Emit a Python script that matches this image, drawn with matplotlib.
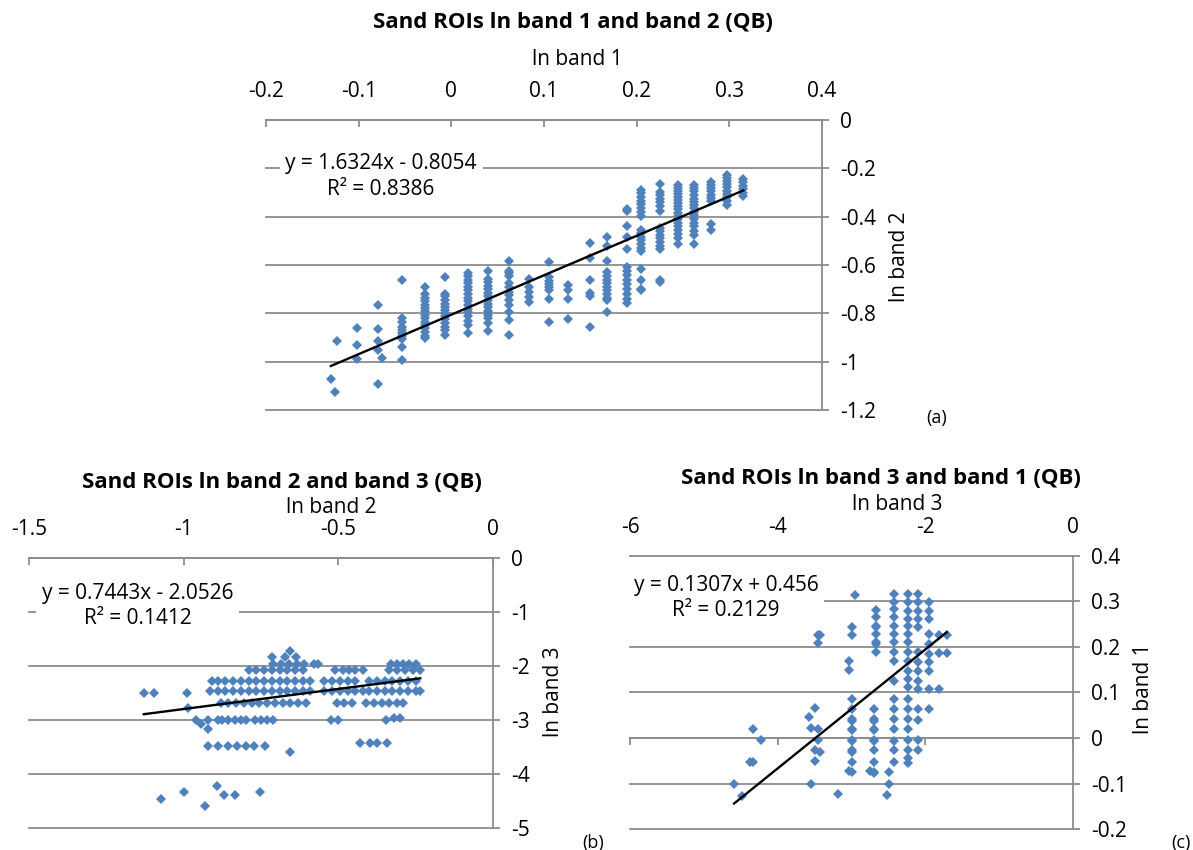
# Sand ROIs - ln band scatter plots with linear trend lines (QB)

import numpy as np
import matplotlib
matplotlib.use('Agg')
import matplotlib.pyplot as plt
from matplotlib.ticker import MultipleLocator, FuncFormatter

plt.rcParams['font.family'] = ['Open Sans', 'DejaVu Sans']
plt.rcParams['axes.unicode_minus'] = False

# ---- panel (a): ln band 1 (x) vs ln band 2 (y), values come in columns
a_col_x = [-0.130, -0.126, -0.123, -0.102, -0.079, -0.075, -0.053, -0.029,
           -0.007, 0.018, 0.040, 0.062, 0.084, 0.105, 0.126, 0.150, 0.168,
           0.189, 0.205, 0.225, 0.244, 0.262, 0.280, 0.297, 0.315]
a_col_y = [
    [-1.070],
    [-1.127],
    [-0.916],
    [-0.862, -0.930, -0.988],
    [-0.766, -0.866, -0.916, -0.953, -1.093],
    [-0.984],
    [-0.664, -0.821, -0.835, -0.857, -0.870, -0.882, -0.895, -0.906, -0.939, -0.994],
    [-0.691, -0.718, -0.735, -0.750, -0.765, -0.778, -0.790, -0.805, -0.820,
     -0.835, -0.848, -0.862, -0.878, -0.892, -0.903],
    [-0.650, -0.718, -0.730, -0.745, -0.760, -0.772, -0.785, -0.800, -0.812,
     -0.825, -0.840, -0.855, -0.870, -0.889],
    [-0.634, -0.645, -0.660, -0.675, -0.690, -0.705, -0.720, -0.735, -0.750,
     -0.765, -0.780, -0.795, -0.810, -0.830, -0.850, -0.882],
    [-0.623, -0.657, -0.672, -0.688, -0.700, -0.715, -0.730, -0.745, -0.760,
     -0.775, -0.790, -0.805, -0.820, -0.840, -0.871],
    [-0.585, -0.623, -0.635, -0.645, -0.675, -0.690, -0.710, -0.725, -0.746,
     -0.765, -0.793, -0.828, -0.889],
    [-0.657, -0.691, -0.712, -0.732, -0.753],
    [-0.586, -0.650, -0.665, -0.680, -0.692, -0.705, -0.742, -0.837],
    [-0.684, -0.705, -0.742, -0.823],
    [-0.507, -0.569, -0.660, -0.716, -0.729, -0.855],
    [-0.484, -0.521, -0.585, -0.630, -0.645, -0.660, -0.675, -0.690, -0.705,
     -0.720, -0.735, -0.746, -0.793],
    [-0.367, -0.378, -0.439, -0.484, -0.534, -0.609, -0.625, -0.640, -0.660,
     -0.680, -0.700, -0.720, -0.740, -0.759],
    [-0.289, -0.303, -0.318, -0.333, -0.348, -0.363, -0.380, -0.398, -0.453,
     -0.468, -0.483, -0.498, -0.513, -0.528, -0.541, -0.616, -0.660, -0.700, -0.705],
    [-0.266, -0.296, -0.310, -0.325, -0.340, -0.355, -0.378, -0.446, -0.460,
     -0.475, -0.490, -0.505, -0.520, -0.534, -0.660, -0.670],
    [-0.269, -0.280, -0.292, -0.305, -0.318, -0.330, -0.342, -0.355, -0.370,
     -0.385, -0.398, -0.410, -0.425, -0.440, -0.455, -0.470, -0.487, -0.511],
    [-0.269, -0.282, -0.295, -0.310, -0.325, -0.338, -0.350, -0.365, -0.380,
     -0.395, -0.410, -0.425, -0.440, -0.458, -0.476, -0.514],
    [-0.255, -0.268, -0.280, -0.295, -0.310, -0.323, -0.337, -0.429, -0.453],
    [-0.228, -0.240, -0.252, -0.265, -0.278, -0.292, -0.305, -0.320, -0.335, -0.350],
    [-0.244, -0.258, -0.272, -0.287, -0.301, -0.316],
]
a_fit = (1.6324, -0.8054)
a_eq = 'y = 1.6324x - 0.8054\nR² = 0.8386'

# ---- panel (b): ln band 2 (x) vs ln band 3 (y), values come in rows
b_row_y = [-1.73, -1.83, -1.97, -2.08, -2.28, -2.46, -2.50, -2.68, -2.77,
           -3.00, -2.96, -3.07, -3.17, -3.48, -3.43, -3.59, -4.22, -4.33,
           -4.38, -4.47, -4.59]
b_row_x = [
    [-0.657],
    [-0.713, -0.673, -0.636],
    [-0.711, -0.686, -0.660, -0.635, -0.610, -0.580, -0.565, -0.330, -0.310,
     -0.290, -0.270, -0.250],
    [-0.790, -0.765, -0.740, -0.715, -0.690, -0.665, -0.640, -0.615, -0.510,
     -0.485, -0.465, -0.445, -0.420, -0.335, -0.310, -0.285, -0.260, -0.235],
    [-0.907, -0.889, -0.865, -0.840, -0.815, -0.790, -0.765, -0.740, -0.715,
     -0.690, -0.665, -0.640, -0.615, -0.590, -0.545, -0.520, -0.495, -0.470,
     -0.445, -0.400, -0.375, -0.350, -0.325, -0.300, -0.275, -0.250],
    [-0.914, -0.890, -0.865, -0.840, -0.815, -0.790, -0.765, -0.740, -0.715,
     -0.690, -0.665, -0.640, -0.615, -0.592, -0.545, -0.520, -0.495, -0.470,
     -0.445, -0.420, -0.400, -0.375, -0.350, -0.325, -0.300, -0.275, -0.250, -0.237],
    [-1.129, -1.096, -0.989],
    [-0.878, -0.855, -0.830, -0.805, -0.780, -0.755, -0.730, -0.705, -0.680,
     -0.655, -0.630, -0.605, -0.505, -0.480, -0.455, -0.410, -0.385, -0.360,
     -0.335, -0.310, -0.290],
    [-0.986],
    [-0.959, -0.921, -0.890, -0.875, -0.855, -0.835, -0.815, -0.800, -0.770,
     -0.750, -0.730, -0.711, -0.523, -0.500, -0.345],
    [-0.320, -0.300],
    [-0.943],
    [-0.921],
    [-0.921, -0.889, -0.857, -0.827, -0.797, -0.773, -0.738],
    [-0.431, -0.399, -0.375, -0.343],
    [-0.657],
    [-0.891],
    [-0.999, -0.754],
    [-0.868, -0.834],
    [-1.074],
    [-0.930],
]
b_fit = (0.7443, -2.0526)
b_eq = 'y = 0.7443x - 2.0526\nR² = 0.1412'

# ---- panel (c): ln band 3 (x) vs ln band 1 (y), values come in columns
c_col_x = [-4.59, -4.49, -4.37, -4.34, -4.23, -3.58, -3.55, -3.49, -3.46,
           -3.43, -3.18, -3.03, -2.99, -2.95, -2.75, -2.69, -2.67, -2.52,
           -2.49, -2.43, -2.24, -2.10, -1.95, -1.82, -1.71]
c_col_y = [
    [-0.100],
    [-0.128],
    [-0.053],
    [0.019, -0.053],
    [-0.005],
    [0.046],
    [0.022, -0.100],
    [0.066, -0.027, -0.051],
    [0.226, 0.208, 0.019, -0.005],
    [0.226, -0.031],
    [-0.122],
    [0.170, 0.150, -0.072],
    [0.245, 0.226, 0.086, 0.064, 0.042, 0.038, 0.020, 0.017, -0.004, -0.006,
     -0.027, -0.031, -0.053, -0.074],
    [0.315],
    [-0.072],
    [0.064, 0.042, 0.038, 0.020, 0.017, -0.004, -0.006, -0.027, -0.053,
     -0.074, -0.076],
    [0.281, 0.265, 0.247, 0.243, 0.229, 0.210, 0.206, 0.188],
    [-0.126],
    [-0.074, -0.100],
    [0.316, 0.298, 0.283, 0.265, 0.247, 0.229, 0.210, 0.188, 0.170, 0.126,
     0.086, 0.064, 0.042, 0.020, -0.006, -0.027, -0.053],
    [0.316, 0.298, 0.280, 0.261, 0.247, 0.229, 0.210, 0.188, 0.170, 0.148,
     0.130, 0.112, 0.086, 0.064, 0.042, 0.019, -0.005, -0.027, -0.045, -0.055],
    [0.316, 0.298, 0.280, 0.261, 0.243, 0.188, 0.166, 0.148, 0.126, 0.108,
     0.064, 0.040, -0.005, -0.027],
    [0.298, 0.280, 0.261, 0.228, 0.206, 0.184, 0.166, 0.148, 0.108, 0.063],
    [0.226, 0.186, 0.108],
    [0.226, 0.186],
]
c_fit = (0.1307, 0.456)
c_eq = 'y = 0.1307x + 0.456\nR² = 0.2129'

blue = '#4F81BD'
gray = '#8C8C8C'
fs = 15


def flat_cols(cx, cy):
    xs = np.concatenate([[x] * len(c) for x, c in zip(cx, cy)])
    ys = np.concatenate(cy)
    return xs, ys


def flat_rows(ry, rx):
    ys = np.concatenate([[y] * len(r) for y, r in zip(ry, rx)])
    xs = np.concatenate(rx)
    return xs, ys


def fmt(v, pos):
    if abs(v) < 1e-9:
        return '0'
    return f'{v:g}'


def draw(ax, xs, ys, fit, xlim, ylim, xstep, ystep, eq, eq_pos,
         title, title_pos, xlabel, xlabel_pos, ylabel, ylabel_pos, axis_at_zero=False):
    ax.plot(xs, ys, 'D', color=blue, markersize=5.2, markeredgewidth=0, zorder=3)
    xx = np.array([xs.min(), xs.max()])
    ax.plot(xx, fit[0] * xx + fit[1], color='black', lw=1.7, zorder=4)

    ax.set_xlim(*xlim)
    ax.set_ylim(*ylim)
    ax.xaxis.set_major_locator(MultipleLocator(xstep))
    ax.yaxis.set_major_locator(MultipleLocator(ystep))
    ax.xaxis.set_major_formatter(FuncFormatter(fmt))
    ax.yaxis.set_major_formatter(FuncFormatter(fmt))

    ax.yaxis.grid(True, color=gray, lw=1.3)
    for gl in ax.get_ygridlines():
        gl.set_clip_on(False)
    ax.set_axisbelow(True)

    for s in ['left', 'bottom', 'top', 'right']:
        ax.spines[s].set_color(gray)
        ax.spines[s].set_linewidth(1.3)
    ax.spines['left'].set_visible(False)

    ax.yaxis.tick_right()
    ax.tick_params(axis='y', direction='out', length=5, width=1.3, color=gray,
                   labelsize=fs, pad=8)
    if axis_at_zero:
        ax.spines['top'].set_visible(False)
        ax.spines['bottom'].set_position(('data', 0))
        ax.tick_params(axis='x', bottom=True, top=False, labelbottom=False,
                       labeltop=True, direction='out', length=5, width=1.3,
                       color=gray, labelsize=fs, pad=8)
    else:
        ax.spines['bottom'].set_visible(False)
        ax.tick_params(axis='x', bottom=False, top=True, labelbottom=False,
                       labeltop=True, direction='in', length=5, width=1.3,
                       color=gray, labelsize=fs, pad=13)

    ax.text(eq_pos[0], eq_pos[1], eq, transform=ax.transAxes, ha='center',
            va='center', multialignment='center', fontsize=fs, linespacing=1.3,
            bbox=dict(facecolor='white', edgecolor='none', pad=4), zorder=5)
    ax.text(title_pos[0], title_pos[1], title, transform=ax.transAxes,
            ha='center', va='center', fontsize=16, fontweight='bold')
    ax.text(xlabel_pos[0], xlabel_pos[1], xlabel, transform=ax.transAxes,
            ha='center', va='center', fontsize=fs)
    ax.text(ylabel_pos[0], ylabel_pos[1], ylabel, transform=ax.transAxes,
            ha='center', va='center', fontsize=fs, rotation=90)


fig = plt.figure(figsize=(11.93, 8.5), dpi=100)

ax_a = fig.add_axes([0.2230, 0.5176, 0.4661, 0.3412])
ax_b = fig.add_axes([0.0243, 0.0259, 0.3889, 0.3176])
ax_c = fig.add_axes([0.5281, 0.0247, 0.3713, 0.3212])

ax_a_x, ax_a_y = flat_cols(a_col_x, a_col_y)
draw(ax_a, ax_a_x, ax_a_y, a_fit, (-0.2, 0.4), (-1.2, 0), 0.1, 0.2,
     a_eq, (0.207, 0.804),
     'Sand ROIs ln band 1 and band 2 (QB)', (0.552, 1.335),
     'ln band 1', (0.559, 1.210),
     'ln band 2', (1.140, 0.528))

ax_b_x, ax_b_y = flat_rows(b_row_y, b_row_x)
draw(ax_b, ax_b_x, ax_b_y, b_fit, (-1.5, 0), (-5, 0), 0.5, 1,
     b_eq, (0.234, 0.822),
     'Sand ROIs ln band 2 and band 3 (QB)', (0.545, 1.280),
     'ln band 2', (0.651, 1.186),
     'ln band 3', (1.131, 0.504))

ax_c_x, ax_c_y = flat_cols(c_col_x, c_col_y)
draw(ax_c, ax_c_x, ax_c_y, c_fit, (-6, 0), (-0.2, 0.4), 2, 0.1,
     c_eq, (0.217, 0.846),
     'Sand ROIs ln band 3 and band 1 (QB)', (0.567, 1.283),
     'ln band 3', (0.603, 1.187),
     'ln band 1', (1.160, 0.513), axis_at_zero=True)

fig.text(0.785, 0.508, '(a)', fontsize=13, ha='center', va='center')
fig.text(0.497, 0.008, '(b)', fontsize=13, ha='center', va='center')
fig.text(0.990, 0.008, '(c)', fontsize=13, ha='center', va='center')

fig.savefig('out.png', dpi=100)
